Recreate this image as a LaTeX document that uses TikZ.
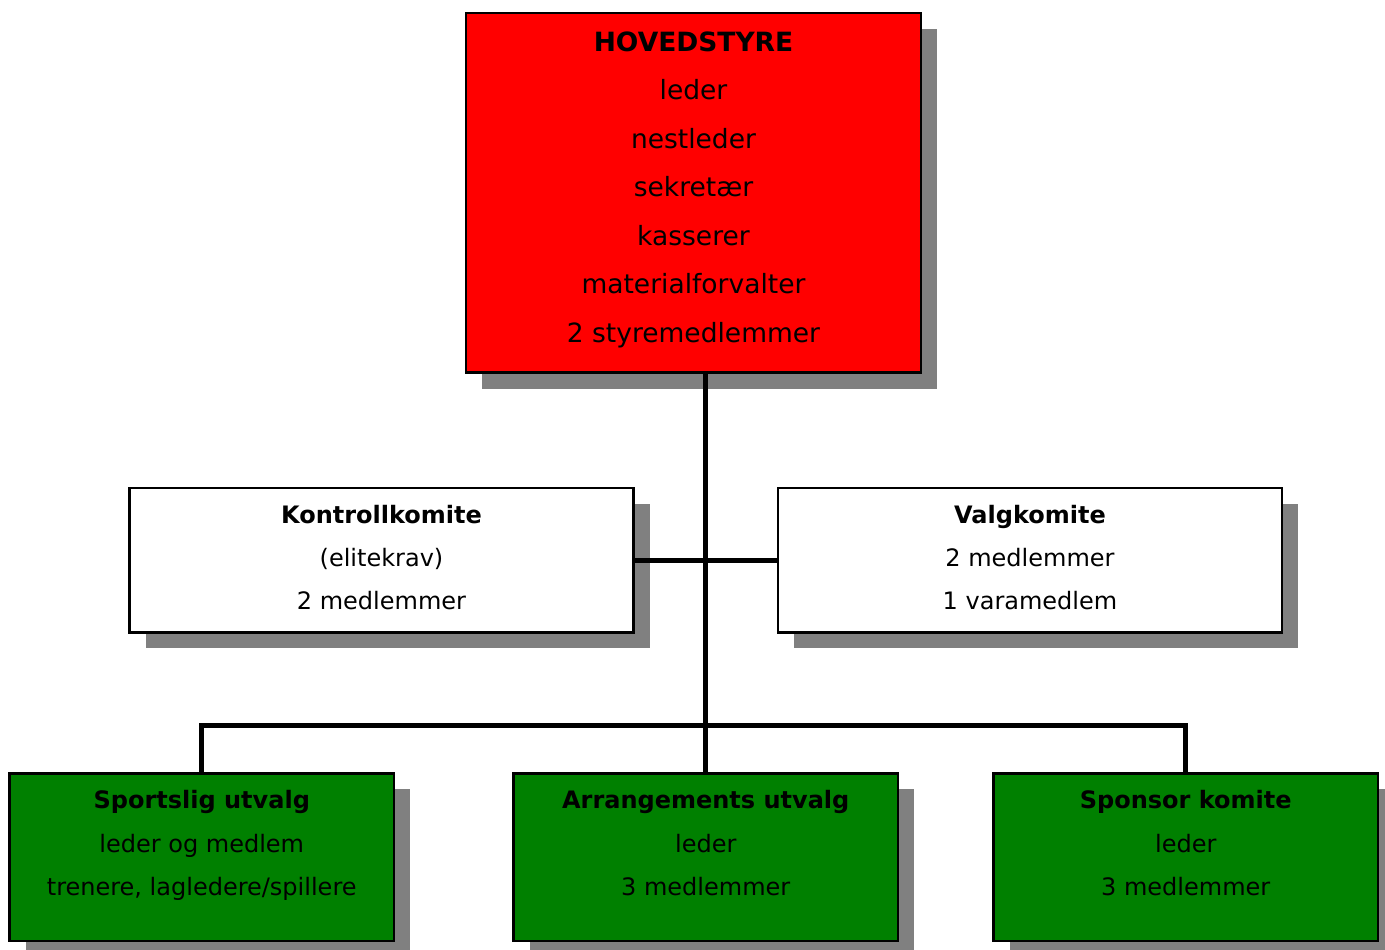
\documentclass[tikz,border=0pt]{standalone}
\usepackage{fontspec}
\setmainfont{DejaVu Sans}
\usepackage{tikz}
\usetikzlibrary{positioning,shadows}
\definecolor{styrerod}{RGB}{255,0,0}
\definecolor{utvalggronn}{RGB}{0,128,0}
\definecolor{skygge}{RGB}{128,128,128}

\begin{document}
\begin{tikzpicture}[x=0.5pt,y=-0.5pt,
		boks/.style={draw, line width=1.2pt, outer sep=0pt, inner sep=0pt,
			general shadow={fill=skygge, shadow xshift=8pt, shadow yshift=-8pt}},
		tekst/.style={inner sep=0pt, align=center, font=\fontsize{12}{21.6}\selectfont},
		linje/.style={line width=2.4pt}]
		\useasboundingbox (0,0) rectangle (1385,949);
%
		\node[boks, fill=styrerod, minimum width=227.5pt, minimum height=179.75pt] (hs) at (693.5,192.75) {};
		\node[boks, fill=white, minimum width=252pt, minimum height=72.15pt] (kk) at (381.5,560.15) {};
		\node[boks, fill=white, minimum width=252pt, minimum height=72.15pt] (vk) at (1030,560.15) {};
		\node[boks, fill=utvalggronn, minimum width=192.25pt, minimum height=83.85pt] (su) at (201.75,857.15) {};
		\node[boks, fill=utvalggronn, minimum width=192.25pt, minimum height=83.85pt] (au) at (705.75,857.15) {};
		\node[boks, fill=utvalggronn, minimum width=192.25pt, minimum height=83.85pt] (sk) at (1185.75,857.15) {};
%
		\node[tekst, font=\fontsize{13.25}{24.25}\selectfont, below=9pt of hs.north] (hs tekst)
			{\textbf{HOVEDSTYRE}\\leder\\nestleder\\sekretær\\kasserer\\materialforvalter\\2 styremedlemmer};
		\node[tekst, below=8.25pt of kk.north] (kk tekst) {\textbf{Kontrollkomite}\\(elitekrav)\\2 medlemmer};
		\node[tekst, below=8.25pt of vk.north] (vk tekst) {\textbf{Valgkomite}\\2 medlemmer\\1 varamedlem};
		\node[tekst, below=8.5pt of su.north] (su tekst) {\textbf{Sportslig utvalg}\\leder og medlem\\trenere, lagledere/spillere};
		\node[tekst, below=8.5pt of au.north] (au tekst) {\textbf{Arrangements utvalg}\\leder\\3 medlemmer};
		\node[tekst, below=8.5pt of sk.north] (sk tekst) {\textbf{Sponsor komite}\\leder\\3 medlemmer};
%
		\coordinate (bar) at (705.75,725.3);
		\draw[linje] (au.north) -- (au.north |- hs.south);
		\draw[linje] (kk.east) -- (vk.west);
		\draw[linje] (su.north) |- (bar) -| (sk.north);
	\end{tikzpicture}
\end{document}
